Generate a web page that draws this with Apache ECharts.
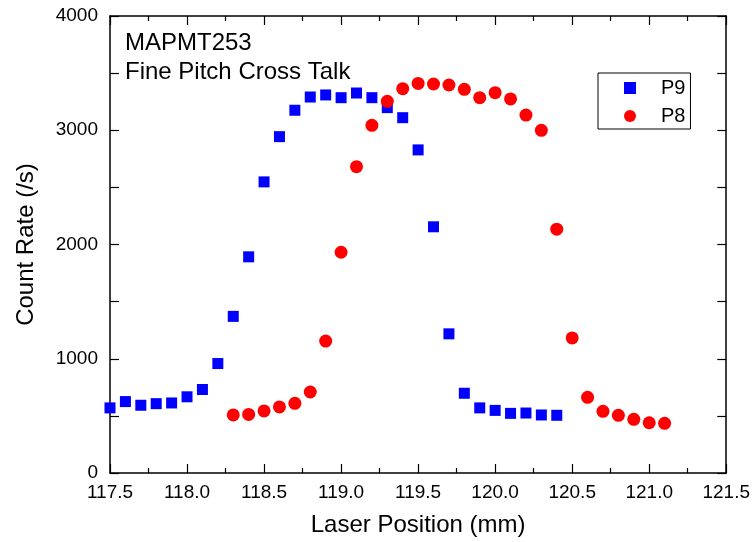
<!DOCTYPE html>
<html>
<head>
<meta charset="utf-8">
<script src="https://cdn.jsdelivr.net/npm/echarts@6/dist/echarts.min.js"></script>
<style>html,body{margin:0;padding:0;background:#fff}#c{width:753px;height:542px}</style>
</head>
<body>
<div id="c"></div>
<script>
const p9X = [117.5,117.6,117.7,117.8,117.9,118.0,118.1,118.2,118.3,118.4,118.5,118.6,118.7,118.8,118.9,119.0,119.1,119.2,119.3,119.4,119.5,119.6,119.7,119.8,119.9,120.0,120.1,120.2,120.3,120.4];
const p9Y = [570,625,593,607,613,667,731,958,1371,1892,2548,2944,3175,3291,3309,3285,3326,3285,3198,3110,2828,2155,1218,698,570,548,522,525,508,505];
const p8X = [118.3,118.4,118.5,118.6,118.7,118.8,118.9,119.0,119.1,119.2,119.3,119.4,119.5,119.6,119.7,119.8,119.9,120.0,120.1,120.2,120.3,120.4,120.5,120.6,120.7,120.8,120.9,121.0,121.1];
const p8Y = [508,513,543,578,610,709,1155,1932,2681,3043,3253,3364,3410,3405,3396,3358,3285,3329,3274,3133,2999,2134,1182,662,540,505,470,440,435];
const xTicks = {min:117.5, max:121.5, interval:0.5};
const yTicks = {min:0, max:4000, interval:1000};
const titleLines = ['MAPMT253','Fine Pitch Cross Talk'];
const xName = 'Laser Position (mm)';
const yName = 'Count Rate (/s)';

const FONT = '"Liberation Sans", Arial, sans-serif';
const axisLine = {show:true, onZero:false, lineStyle:{color:'#000', width:1.5}};
const tick = {show:true, inside:true, length:9, lineStyle:{color:'#000', width:1.2}};
const minor = {show:true, splitNumber:2, length:5, lineStyle:{color:'#000', width:1.2}};

const chart = echarts.init(document.getElementById('c'), null, {renderer:'canvas'});
chart.setOption({
  animation:false,
  backgroundColor:'#fff',
  title:{text:titleLines.join('\n'), left:120, top:24,
    textStyle:{fontFamily:FONT, fontSize:24, fontWeight:'normal', color:'#000', lineHeight:29}},
  grid:{left:110, right:25, top:16, bottom:69},
  legend:{orient:'vertical', left:598, top:73, data:['P9','P8'],
    borderColor:'#000', borderWidth:1, padding:[4,5,2,26], itemGap:6,
    itemWidth:12, itemHeight:12,
    textStyle:{fontFamily:FONT, fontSize:20, color:'#000', lineHeight:22, padding:[0,0,0,20]}},
  xAxis:[
    {type:'value', position:'bottom', min:xTicks.min, max:xTicks.max, interval:xTicks.interval,
     name:xName, nameLocation:'middle', nameGap:40,
     nameTextStyle:{fontFamily:FONT, fontSize:24, color:'#000'},
     axisLine, axisTick:tick, minorTick:minor, splitLine:{show:false},
     axisLabel:{fontFamily:FONT, fontSize:19, color:'#000', margin:10, formatter:v=>v.toFixed(1)}},
    {type:'value', position:'top', min:xTicks.min, max:xTicks.max, interval:xTicks.interval,
     axisLine, axisTick:tick, minorTick:minor, splitLine:{show:false}, axisLabel:{show:false}}
  ],
  yAxis:[
    {type:'value', position:'left', min:yTicks.min, max:yTicks.max, interval:yTicks.interval,
     name:yName, nameLocation:'middle', nameGap:72,
     nameTextStyle:{fontFamily:FONT, fontSize:24, color:'#000'},
     axisLine, axisTick:tick, minorTick:{...minor, length:9}, splitLine:{show:false},
     axisLabel:{fontFamily:FONT, fontSize:19, color:'#000', margin:12, formatter:v=>String(v)}},
    {type:'value', position:'right', min:yTicks.min, max:yTicks.max, interval:yTicks.interval,
     axisLine, axisTick:tick, minorTick:{...minor, length:9}, splitLine:{show:false}, axisLabel:{show:false}}
  ],
  series:[
    {name:'P9', type:'scatter', symbol:'rect', symbolSize:11, itemStyle:{color:'#0000ff', opacity:1},
     emphasis:{disabled:true}, data:p9X.map((x,i)=>[x,p9Y[i]])},
    {name:'P8', type:'scatter', symbol:'circle', symbolSize:13, itemStyle:{color:'#ff0000', opacity:1},
     emphasis:{disabled:true}, data:p8X.map((x,i)=>[x,p8Y[i]])}
  ]
});
</script>
</body>
</html>
